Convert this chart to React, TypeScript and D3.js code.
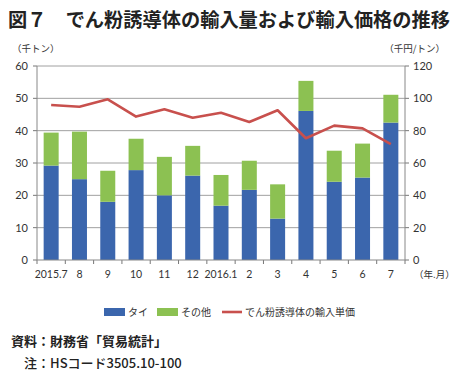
import React from "react";
import * as d3 from "d3";

const categories = ["2015.7", "8", "9", "10", "11", "12", "2016.1", "2", "3", "4", "5", "6", "7"];
const thai = [29.2, 25.0, 18.0, 27.8, 20.0, 26.1, 16.8, 21.7, 12.8, 46.1, 24.2, 25.5, 42.5];
const total = [39.4, 39.7, 27.6, 37.5, 31.9, 35.3, 26.3, 30.7, 23.4, 55.4, 33.8, 36.0, 51.1];
const unitPrice = [95.9, 94.8, 99.4, 88.7, 93.2, 88.0, 91.1, 85.4, 92.6, 75.3, 83.1, 81.4, 71.7];
const leftTicks = [0, 10, 20, 30, 40, 50, 60];
const rightTicks = [0, 20, 40, 60, 80, 100, 120];

const BLUE = "#3b66ad";
const GREEN = "#8cc152";
const RED = "#c8504d";
const FONT = "'Noto Sans CJK JP', 'Noto Sans', sans-serif";
const NUMFONT = "Lato, 'Noto Sans CJK JP', sans-serif";

export default function App() {
  const W = 460, H = 382;
  const x0 = 37, x1 = 405, yTop = 66, yBot = 260;
  const x = d3.scaleBand<string>().domain(categories).range([x0, x1]).paddingInner(0.47).paddingOuter(0.235);
  const yL = d3.scaleLinear().domain([0, 60]).range([yBot, yTop]);
  const yR = d3.scaleLinear().domain([0, 120]).range([yBot, yTop]);
  const band = (x1 - x0) / categories.length;
  const line = d3.line<number>()
    .x((_, i) => (x(categories[i]) as number) + x.bandwidth() / 2)
    .y((d) => yR(d));

  return (
    <svg width={W} height={H} style={{ position: "absolute", left: 0, top: 0, background: "#fff" }} fontFamily={FONT}>
      <text x={8} y={27} fontSize={19.5} fontWeight="bold" fill="#222" textLength={442} lengthAdjust="spacingAndGlyphs">
        図７　でん粉誘導体の輸入量および輸入価格の推移
      </text>
      <text x={12} y={52} fontSize={9.5} fill="#333">（千トン）</text>
      <text x={445} y={52} fontSize={9.5} fill="#333" textAnchor="end">（千円/トン）</text>

      {leftTicks.map((t) => (
        <g key={"g" + t}>
          {t > 0 && <line x1={x0} x2={x1} y1={yL(t)} y2={yL(t)} stroke="#a0a0a0" strokeWidth={1} />}
          <line x1={x0 - 4} x2={x0} y1={yL(t)} y2={yL(t)} stroke="#777" />
          <text x={28} y={yL(t) + 4} fontSize={11} textAnchor="end" fill="#333" fontFamily={NUMFONT}>{t}</text>
        </g>
      ))}
      {rightTicks.map((t) => (
        <g key={"r" + t}>
          <line x1={x1} x2={x1 + 4} y1={yR(t)} y2={yR(t)} stroke="#777" />
          <text x={413} y={yR(t) + 4} fontSize={11} fill="#333" fontFamily={NUMFONT}>{t}</text>
        </g>
      ))}

      {categories.map((c, i) => (
        <g key={c}>
          <rect x={x(c)} y={yL(thai[i])} width={x.bandwidth()} height={yL(0) - yL(thai[i])} fill={BLUE} />
          <rect x={x(c)} y={yL(total[i])} width={x.bandwidth()} height={yL(thai[i]) - yL(total[i])} fill={GREEN} />
          <text x={(x(c) as number) + x.bandwidth() / 2} y={278} fontSize={10.5} textAnchor="middle" fill="#333" fontFamily={NUMFONT}>{c}</text>
        </g>
      ))}
      {d3.range(categories.length + 1).map((i) => (
        <line key={"xt" + i} x1={x0 + i * band} x2={x0 + i * band} y1={yBot} y2={yBot + 4} stroke="#777" />
      ))}
      <line x1={x0} x2={x0} y1={yTop} y2={yBot} stroke="#888" />
      <line x1={x1} x2={x1} y1={yTop} y2={yBot} stroke="#888" />
      <line x1={x0} x2={x1} y1={yBot} y2={yBot} stroke="#888" />

      <path d={line(unitPrice) || ""} fill="none" stroke={RED} strokeWidth={2.6} strokeLinejoin="round" />

      <text x={414} y={278} fontSize={9.5} fill="#333">（年.月）</text>

      <rect x={104} y={308} width={21} height={8} fill={BLUE} />
      <text x={128} y={316} fontSize={10} fill="#333">タイ</text>
      <rect x={157} y={308} width={21} height={8} fill={GREEN} />
      <text x={181} y={316} fontSize={10} fill="#333">その他</text>
      <line x1={222} x2={242} y1={312} y2={312} stroke={RED} strokeWidth={2.6} />
      <text x={245} y={316} fontSize={10} fill="#333">でん粉誘導体の輸入単価</text>

      <text x={11} y={346} fontSize={13} fontWeight={600} fill="#222">資料：財務省「貿易統計」</text>
      <text x={24} y={368} fontSize={13} fontWeight={500} fill="#222">注：HSコード3505.10-100</text>
    </svg>
  );
}
